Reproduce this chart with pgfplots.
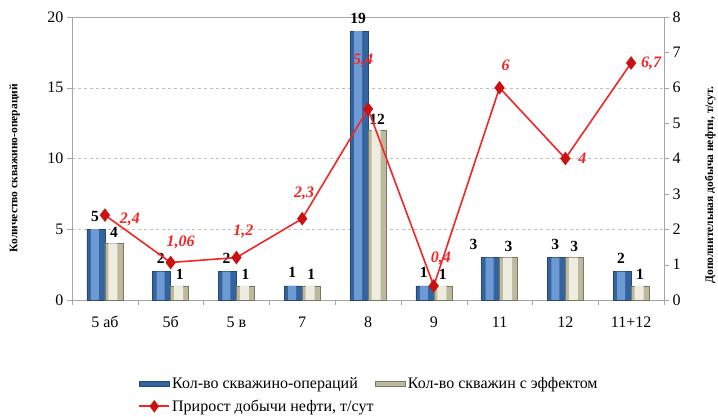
\documentclass[border=0pt]{standalone}
\usepackage{fontspec}
\setmainfont{Liberation Serif}
\usepackage{pgfplots}
\usepackage{pgfplotstable}
\pgfplotsset{compat=1.18}
\definecolor{bdark}{HTML}{3464A0}
\definecolor{blight}{HTML}{6D9AD2}
\definecolor{bedge}{HTML}{27496F}
\definecolor{gdark}{HTML}{BDB99F}
\definecolor{glight}{HTML}{EEECDF}
\definecolor{gedge}{HTML}{7A7762}
\definecolor{lred}{HTML}{F52525}
\definecolor{mred}{HTML}{CC1111}
\definecolor{axgray}{HTML}{A6A6A6}
\pgfplotsset{
  barlegend/.style={legend image code/.code={\draw[##1] (0pt,-2.5pt) rectangle (30pt,2.5pt);}},
  linelegend/.style={legend image code/.code={\draw[mark repeat=2, mark phase=2, ##1] plot coordinates {(0pt,0pt) (15pt,0pt) (30pt,0pt)};}},
}

\pgfplotstableread{
x b g bdx
0 5 4 0
1 2 1 0
2 2 1 0
3 1 1 0
4 19 12 0
5 1 1 0
6 3 3 -16
7 3 3 0
8 2 1 0
}\bars

\pgfplotstableread{
x y lab dx dy
0 2.4 2,4 25 -4
1 1.06 1,06 10 20
2 1.2 1,2 7 26
3 2.3 2,3 2 25
4 5.4 5,4 -5 48
5 0.4 0,4 7 27
6 6 6 6 22
7 4 4 17 0
8 6.7 6,7 20 0
}\prirost

\begin{document}
\begin{tikzpicture}
\path[use as bounding box] (-72pt,-117pt) rectangle (646pt,300pt);
\begin{axis}[
  at={(0pt,0pt)}, anchor=south west,
  width=592pt, height=283pt, scale only axis,
  xmin=-0.5, xmax=8.5, ymin=0, ymax=20,
  axis x line*=bottom, axis y line*=left,
  axis line style={axgray},
  xtick={0,...,8},
  xticklabels={5 аб,5б,5 в,7,8,9,11,12,11+12},
  major x tick style={draw=none},
  minor xtick={-0.5,0.5,...,8.5},
  minor x tick style={axgray},
  minor tick length=5pt,
  ytick={0,5,...,20},
  y tick style={axgray},
  major tick length=5pt,
  tick align=outside,
  ymajorgrids, grid style={axgray!70, dashed},
  /pgf/number format/assume math mode=true,
  tick label style={font=\fontsize{16}{18}\selectfont, black},
  x tick label style={yshift=-8pt},
  every axis y label/.style={at={(axis description cs:-0.097,0.466)}, rotate=90, anchor=center},
  ylabel={\bfseries\fontsize{11.5}{13}\selectfont Количество скважино-операций},
  bar width=18pt,
  legend style={draw=none, fill=none, at={(axis description cs:0.107,-0.258)}, anchor=north west,
    font=\fontsize{16}{18}\selectfont, legend cell align=left, row sep=6pt,
    /tikz/every even column/.append style={column sep=0pt}},
  legend columns=2,
  clip=false,
]
\addplot[ybar, bar shift=-9pt, draw=bedge, fill=bdark,
  nodes near coords, point meta=explicit,
  visualization depends on={\thisrow{bdx}\as\bdx},
  nodes near coords style={font=\bfseries\fontsize{15.5}{17}\selectfont, black, anchor=center, xshift={(\bdx-10)*1pt}, yshift=13pt},
  barlegend]
  table[x=x, y=b, meta=b] {\bars};
\addlegendentry{Кол-во скважино-операций}
\addplot[ybar, bar shift=9pt, draw=gedge, fill=gdark,
  nodes near coords, point meta=explicit,
  nodes near coords style={font=\bfseries\fontsize{15.5}{17}\selectfont, black, anchor=center, xshift=9pt, yshift=11pt},
  barlegend]
  table[x=x, y=g, meta=g] {\bars};
\addlegendentry{Кол-во скважин с эффектом}
\addplot[ybar, bar shift=-10pt, bar width=8pt, draw=none, fill=blight, forget plot]
  table[x=x, y=b] {\bars};
\addplot[ybar, bar shift=8pt, bar width=9pt, draw=none, fill=glight, forget plot]
  table[x=x, y=g] {\bars};
\addlegendimage{lred, line width=1.6pt, mark=diamond*, mark size=5pt, mark options={fill=mred, draw=mred}, linelegend}
\addlegendentry{Прирост добычи нефти, т/сут}
\draw[axgray] (rel axis cs:0,1) -- (rel axis cs:1,1);
\end{axis}
\begin{axis}[
  at={(0pt,0pt)}, anchor=south west,
  width=592pt, height=283pt, scale only axis,
  xmin=-0.5, xmax=8.5, ymin=0, ymax=8,
  axis x line=none, axis y line*=right,
  axis line style={axgray},
  ytick={0,...,8},
  y tick style={axgray},
  major tick length=5pt,
  tick align=outside,
  /pgf/number format/assume math mode=true,
  tick label style={font=\fontsize{16}{18}\selectfont, black},
  every axis y label/.style={at={(axis description cs:1.078,0.406)}, rotate=90, anchor=center},
  ylabel={\bfseries\fontsize{11.5}{13}\selectfont Дополнительная добыча нефти, т/сут.},
  clip=false,
]
\addplot[lred, line width=1.6pt, mark=diamond*, mark size=5.5pt, mark options={fill=mred, draw=mred},
  nodes near coords, point meta=explicit symbolic,
  visualization depends on={\thisrow{dx}\as\dx},
  visualization depends on={\thisrow{dy}\as\dy},
  nodes near coords style={font=\bfseries\itshape\fontsize{16}{18}\selectfont, lred, anchor=center,
    xshift=\dx pt, yshift=\dy pt}]
  table[x=x, y=y, meta=lab] {\prirost};
\end{axis}
\end{tikzpicture}
\end{document}
